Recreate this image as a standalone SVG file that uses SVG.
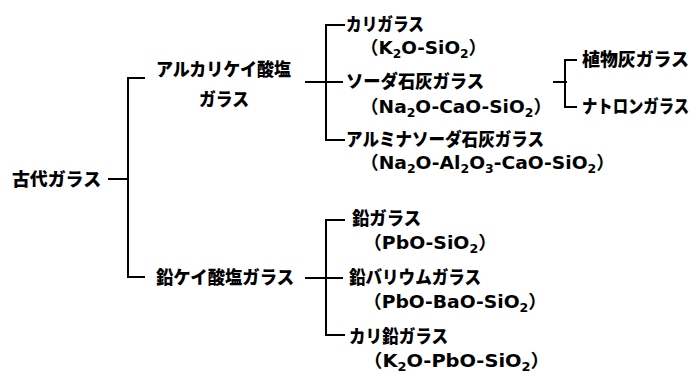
<svg xmlns="http://www.w3.org/2000/svg" width="693" height="372" viewBox="0 0 693 372">
<style>
text{font-family:"Noto Sans CJK JP","Noto Sans",sans-serif;font-weight:900;font-size:18px;fill:#000}
.f{font-family:"DejaVu Sans","Noto Sans CJK JP",sans-serif;font-weight:bold;font-size:18px}
.p{font-family:"Noto Sans CJK JP",sans-serif}
.s{font-size:12px}
#connectors path{fill:none;stroke:#000;stroke-width:2}
</style>
<rect width="693" height="372" fill="#fff"/>
<g id="connectors">
<path d="M108 179H128M145 78H128V277H145"/>
<path d="M305 82H343M345 25H326V140H345"/>
<path d="M553 82H567M577 60H565V107H577"/>
<path d="M305 278H343M345 220H326V335H345"/>
</g>
<g id="root"><text x="12" y="186" textLength="89" lengthAdjust="spacingAndGlyphs">古代ガラス</text></g>
<g id="alkali"><text x="156" y="76" textLength="135" lengthAdjust="spacingAndGlyphs">アルカリケイ酸塩</text><text x="199" y="106" textLength="50" lengthAdjust="spacingAndGlyphs">ガラス</text></g>
<g id="kali"><text x="346" y="31" textLength="78" lengthAdjust="spacingAndGlyphs">カリガラス</text><text class="f" x="360" y="54" textLength="127" lengthAdjust="spacingAndGlyphs"><tspan class="p">（</tspan>K<tspan class="s" dy="4">2</tspan><tspan dy="-4">O-SiO</tspan><tspan class="s" dy="4">2</tspan><tspan class="p" dy="-4">）</tspan></text></g>
<g id="soda"><text x="346" y="88" textLength="138" lengthAdjust="spacingAndGlyphs">ソーダ石灰ガラス</text><text class="f" x="360" y="113" textLength="192" lengthAdjust="spacingAndGlyphs"><tspan class="p">（</tspan>Na<tspan class="s" dy="4">2</tspan><tspan dy="-4">O-CaO-SiO</tspan><tspan class="s" dy="4">2</tspan><tspan class="p" dy="-4">）</tspan></text></g>
<g id="alumina"><text x="346" y="146" textLength="198" lengthAdjust="spacingAndGlyphs">アルミナソーダ石灰ガラス</text><text class="f" x="360" y="169" textLength="255" lengthAdjust="spacingAndGlyphs"><tspan class="p">（</tspan>Na<tspan class="s" dy="4">2</tspan><tspan dy="-4">O-Al</tspan><tspan class="s" dy="4">2</tspan><tspan dy="-4">O</tspan><tspan class="s" dy="4">3</tspan><tspan dy="-4">-CaO-SiO</tspan><tspan class="s" dy="4">2</tspan><tspan class="p" dy="-4">）</tspan></text></g>
<g id="plant"><text x="582" y="66" textLength="107" lengthAdjust="spacingAndGlyphs">植物灰ガラス</text></g>
<g id="natron"><text x="582" y="113" textLength="107" lengthAdjust="spacingAndGlyphs">ナトロンガラス</text></g>
<g id="lead-silicate"><text x="156" y="284" textLength="138" lengthAdjust="spacingAndGlyphs">鉛ケイ酸塩ガラス</text></g>
<g id="lead"><text x="352" y="225" textLength="69" lengthAdjust="spacingAndGlyphs">鉛ガラス</text><text class="f" x="363" y="249" textLength="134" lengthAdjust="spacingAndGlyphs"><tspan class="p">（</tspan>PbO-SiO<tspan class="s" dy="4">2</tspan><tspan class="p" dy="-4">）</tspan></text></g>
<g id="barium"><text x="349" y="284" textLength="132" lengthAdjust="spacingAndGlyphs">鉛バリウムガラス</text><text class="f" x="363" y="308" textLength="184" lengthAdjust="spacingAndGlyphs"><tspan class="p">（</tspan>PbO-BaO-SiO<tspan class="s" dy="4">2</tspan><tspan class="p" dy="-4">）</tspan></text></g>
<g id="kali-lead"><text x="349" y="343" textLength="99" lengthAdjust="spacingAndGlyphs">カリ鉛ガラス</text><text class="f" x="363" y="367" textLength="187" lengthAdjust="spacingAndGlyphs"><tspan class="p">（</tspan>K<tspan class="s" dy="3.5">2</tspan><tspan dy="-3.5">O-PbO-SiO</tspan><tspan class="s" dy="3.5">2</tspan><tspan class="p" dy="-3.5">）</tspan></text></g>
</svg>
